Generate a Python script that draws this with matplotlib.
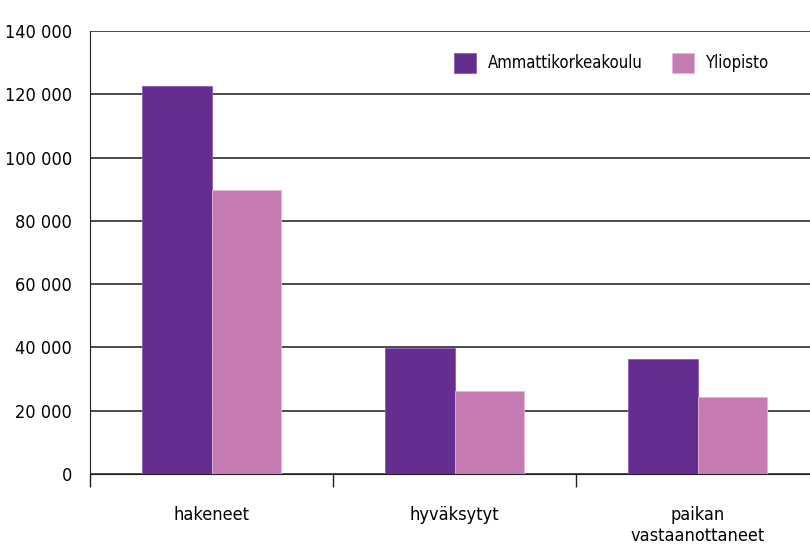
import matplotlib.pyplot as plt
from matplotlib.ticker import FuncFormatter, FixedLocator

categories = ["hakeneet", "hyväksytyt", "paikan\nvastaanottaneet"]
amk = [122500, 39800, 36300]
yliopisto = [89900, 26200, 24300]
series_names = ["Ammattikorkeakoulu", "Yliopisto"]
yticks = [0, 20000, 40000, 60000, 80000, 100000, 120000, 140000]

plt.rcParams["font.family"] = ["DejaVu Sans"]
plt.rcParams["font.stretch"] = "condensed"

fig = plt.figure(figsize=(8.1, 5.48), dpi=100)
ax = fig.add_axes([90 / 810, 1 - 474 / 548, 729 / 810, 443 / 548])

w = 0.284
x = range(len(categories))
ax.bar([i - w / 2 for i in x], amk, width=w, color="#652d8f", edgecolor="#8a5cb0",
       linewidth=0.6, label=series_names[0], zorder=3)
ax.bar([i + w / 2 for i in x], yliopisto, width=w, color="#c77bb3", edgecolor="#e2b6d6",
       linewidth=0.6, label=series_names[1], zorder=3)

ax.set_xlim(-0.5, 2.5)
ax.set_ylim(0, 140000)
ax.set_yticks(yticks)
ax.yaxis.set_major_formatter(FuncFormatter(lambda v, p: f"{int(v):,}".replace(",", " ")))
ax.tick_params(axis="y", length=0, pad=13, labelsize=13)
ax.grid(axis="y", color="#1a1a1a", linewidth=1.1, zorder=0)

ax.set_xticks(list(x))
ax.set_xticklabels(categories, fontsize=13, linespacing=1.2)
ax.tick_params(axis="x", which="major", length=0, pad=23)
ax.xaxis.set_minor_locator(FixedLocator([-0.5, 0.5, 1.5, 2.5]))
ax.tick_params(axis="x", which="minor", length=9.5, width=1, color="#222222", direction="out")

for s in ["top", "right"]:
    ax.spines[s].set_visible(False)
ax.spines["left"].set_color("#222222")
ax.spines["bottom"].set_color("#222222")

ax.legend(loc="upper right", bbox_to_anchor=(0.952, 0.985), ncol=2, frameon=False,
          fontsize=12, handlelength=1.3, handleheight=1.5, columnspacing=1.8, handletextpad=0.7)

fig.savefig("out.png", dpi=100)
